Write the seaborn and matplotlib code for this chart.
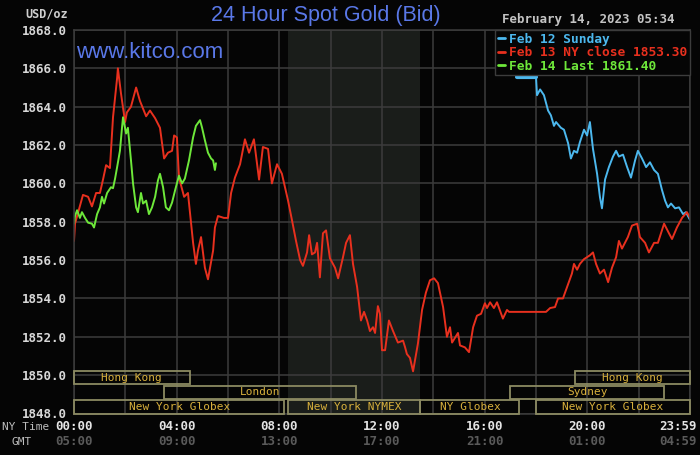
import pandas as pd
import seaborn as sns
import matplotlib.pyplot as plt
from matplotlib.patches import Rectangle

# hours after midnight (NY time) and USD/oz
red_hours = [0.0, 0.04, 0.35, 0.55, 0.70, 0.86, 1.01, 1.13, 1.25, 1.40, 1.52, 1.68, 1.71, 1.83,
             1.99, 2.06, 2.22, 2.42, 2.57, 2.81, 2.96, 3.16, 3.35, 3.51, 3.66, 3.82, 3.90, 4.01,
             4.09, 4.29, 4.44, 4.64, 4.75, 4.83, 4.95, 5.10, 5.22, 5.42, 5.49, 5.61, 5.84, 6.00,
             6.12, 6.27, 6.47, 6.66, 6.82, 7.01, 7.21, 7.36, 7.56, 7.71, 7.91, 8.10, 8.34, 8.49,
             8.65, 8.81, 8.92, 9.08, 9.16, 9.27, 9.39, 9.47, 9.58, 9.70, 9.82, 9.97, 10.17, 10.29,
             10.48, 10.60, 10.75, 10.87, 11.03, 11.18, 11.30, 11.42, 11.53, 11.65, 11.73, 11.84,
             11.92, 12.00, 12.12, 12.27, 12.43, 12.62, 12.82, 12.90, 12.97, 13.09, 13.21, 13.40,
             13.56, 13.71, 13.87, 14.03, 14.18, 14.38, 14.53, 14.65, 14.73, 14.96, 15.04, 15.23,
             15.39, 15.55, 15.70, 15.86, 16.01, 16.09, 16.21, 16.36, 16.48, 16.71, 16.87, 16.95,
             18.39, 18.55, 18.74, 18.86, 19.05, 19.21, 19.40, 19.48, 19.60, 19.71, 19.87, 20.10,
             20.22, 20.34, 20.49, 20.65, 20.81, 20.96, 21.12, 21.23, 21.35, 21.58, 21.74, 21.94,
             22.05, 22.25, 22.40, 22.60, 22.75, 22.99, 23.18, 23.30, 23.49, 23.69, 23.88, 24.0]
red_price = [1857.0, 1857.9, 1859.4, 1859.3, 1858.8, 1859.5, 1859.5, 1860.2, 1860.95, 1860.8,
             1863.45, 1865.5, 1866.0, 1864.7, 1863.2, 1863.7, 1864.0, 1865.0, 1864.3, 1863.5,
             1863.8, 1863.4, 1862.9, 1861.3, 1861.6, 1861.7, 1862.5, 1862.4, 1860.3, 1859.3,
             1859.5, 1856.9, 1855.8, 1856.5, 1857.2, 1855.6, 1855.0, 1856.5, 1857.7, 1858.3,
             1858.2, 1858.2, 1859.5, 1860.3, 1861.0, 1862.3, 1861.6, 1862.3, 1860.2, 1861.9,
             1861.8, 1860.0, 1861.0, 1860.5, 1859.1, 1858.1, 1857.0, 1856.0, 1855.7, 1856.4,
             1857.3, 1856.3, 1856.4, 1856.9, 1855.1, 1857.4, 1857.55, 1856.1, 1855.6, 1855.05,
             1856.15, 1856.9, 1857.3, 1855.8, 1854.6, 1852.85, 1853.3, 1852.85, 1852.3, 1852.5,
             1852.2, 1853.6, 1853.2, 1851.3, 1851.3, 1852.85, 1852.3, 1851.7, 1851.8, 1851.45,
             1851.1, 1850.9, 1850.2, 1851.65, 1853.4, 1854.3, 1854.95, 1855.05, 1854.8, 1853.55,
             1852.0, 1852.5, 1851.7, 1852.2, 1851.55, 1851.45, 1851.2, 1852.5, 1853.1, 1853.2,
             1853.75, 1853.5, 1853.8, 1853.5, 1853.8, 1852.95, 1853.4, 1853.3, 1853.3, 1853.5,
             1853.55, 1854.0, 1854.0, 1854.6, 1855.3, 1855.8, 1855.5, 1855.8, 1856.05, 1856.25,
             1856.4, 1855.8, 1855.3, 1855.5, 1854.85, 1855.6, 1856.15, 1857.0, 1856.6, 1857.2,
             1857.8, 1857.9, 1857.2, 1856.9, 1856.4, 1856.9, 1856.9, 1857.9, 1857.4, 1857.1,
             1857.7, 1858.2, 1858.5, 1858.2]

blue_hours = [17.26, 18.0, 18.04, 18.16, 18.31, 18.47, 18.58, 18.70, 18.78, 18.97, 19.09, 19.25,
              19.36, 19.48, 19.60, 19.71, 19.87, 19.99, 20.10, 20.22, 20.38, 20.49, 20.57, 20.69,
              20.84, 21.00, 21.12, 21.23, 21.39, 21.55, 21.70, 21.86, 21.97, 22.13, 22.29, 22.44,
              22.60, 22.75, 22.91, 23.03, 23.14, 23.26, 23.42, 23.57, 23.73, 23.84, 24.0]
blue_price = [1865.55, 1865.55, 1864.6, 1864.9, 1864.6, 1863.8, 1863.55, 1863.0, 1863.2, 1862.9,
              1862.8, 1862.1, 1861.3, 1861.7, 1861.6, 1862.15, 1862.8, 1862.5, 1863.2, 1861.8,
              1860.5, 1859.3, 1858.7, 1860.2, 1860.85, 1861.4, 1861.7, 1861.4, 1861.5, 1860.85,
              1860.3, 1861.2, 1861.7, 1861.3, 1860.85, 1861.1, 1860.7, 1860.5, 1859.65, 1859.1,
              1858.75, 1858.95, 1858.7, 1858.75, 1858.4, 1858.5, 1858.1]

green_hours = [0.0, 0.04, 0.12, 0.23, 0.31, 0.43, 0.55, 0.70, 0.78, 0.90, 1.01, 1.09, 1.17, 1.29,
               1.44, 1.52, 1.60, 1.68, 1.79, 1.87, 1.91, 2.03, 2.10, 2.22, 2.30, 2.42, 2.49, 2.61,
               2.69, 2.81, 2.92, 3.04, 3.16, 3.27, 3.35, 3.47, 3.58, 3.70, 3.82, 3.94, 4.09, 4.21,
               4.32, 4.48, 4.64, 4.75, 4.91, 4.99, 5.10, 5.22, 5.34, 5.42, 5.49, 5.53]
green_price = [1857.9, 1858.3, 1858.6, 1858.2, 1858.5, 1858.2, 1857.95, 1857.9, 1857.7, 1858.4,
               1858.75, 1859.3, 1858.95, 1859.5, 1859.8, 1859.75, 1860.25, 1860.85, 1861.7, 1862.9,
               1863.45, 1862.6, 1862.9, 1861.2, 1860.0, 1858.75, 1858.5, 1859.5, 1858.95, 1859.1,
               1858.4, 1858.75, 1859.3, 1860.15, 1860.5, 1859.8, 1858.75, 1858.6, 1859.0, 1859.65,
               1860.4, 1860.0, 1860.25, 1861.2, 1862.4, 1863.0, 1863.3, 1862.9, 1862.25, 1861.6,
               1861.3, 1861.2, 1860.7, 1861.05]

series_labels = ['Feb 12 Sunday', 'Feb 13 NY close 1853.30', 'Feb 14 Last 1861.40']
series_colors = ['#4cb8ee', '#e8301e', '#6ee83a']

ny_ticks = ['00:00', '04:00', '08:00', '12:00', '16:00', '20:00', '23:59']
gmt_ticks = ['05:00', '09:00', '13:00', '17:00', '21:00', '01:00', '04:59']
tick_hours = [0, 4, 8, 12, 16, 20, 24]

# trading sessions drawn as boxes along the bottom
session_names = ['Hong Kong', 'London', 'New York Globex', 'New York NYMEX', 'NY Globex',
                 'Hong Kong', 'Sydney', 'New York Globex']
session_start = [0, 3.5, 0, 8.33, 13.5, 19.5, 17.0, 18.0]
session_end = [4.5, 11.0, 8.2, 13.5, 17.35, 24, 23.0, 24]
session_row = [0, 1, 2, 2, 2, 0, 1, 2]
nymex_start, nymex_end = 8.33, 13.5

sns.set_style('dark', {'axes.facecolor': '#050505', 'figure.facecolor': '#050505',
                       'axes.edgecolor': '#3c3c3c', 'grid.color': '#3c3c3c'})
plt.rcParams['font.family'] = ['DejaVu Sans Mono']

fig = plt.figure(figsize=(7, 4.55), dpi=100)
ax = fig.add_axes([74 / 700, 1 - 413.5 / 455, 616 / 700, 383.5 / 455])

ax.axvspan(nymex_start, nymex_end, color='#1a1d1a', zorder=0, lw=0)

blue = pd.DataFrame({'hour': blue_hours, 'price': blue_price})
red = pd.DataFrame({'hour': red_hours, 'price': red_price})
green = pd.DataFrame({'hour': green_hours, 'price': green_price})

sns.lineplot(data=blue.iloc[:2], x='hour', y='price', color=series_colors[0], lw=3, ax=ax)
sns.lineplot(data=blue, x='hour', y='price', color=series_colors[0], lw=1.4, ax=ax,
             estimator=None, sort=False, label=series_labels[0])
sns.lineplot(data=red, x='hour', y='price', color=series_colors[1], lw=1.4, ax=ax,
             estimator=None, sort=False, label=series_labels[1])
sns.lineplot(data=green, x='hour', y='price', color=series_colors[2], lw=1.4, ax=ax,
             estimator=None, sort=False, label=series_labels[2])

ax.set_xlim(0, 24)
ax.set_ylim(1848, 1868)
ax.set_xticks(range(0, 25, 2))
ax.set_xticklabels([])
ax.set_yticks(range(1848, 1869, 2))
ax.set_yticklabels([f'{v}.0' for v in range(1848, 1869, 2)], color='#d8d8d8',
                   fontsize=9, fontweight='bold')
ax.tick_params(length=0, pad=5)
ax.grid(True, lw=1.1, color='#3c3c3c')
ax.set_axisbelow(True)
ax.set_xlabel('')
ax.set_ylabel('')
for sp in ax.spines.values():
    sp.set_color('#3c3c3c')
    sp.set_linewidth(1.1)

# session boxes
row_top = [1850.2, 1849.45, 1848.68]
row_h = 0.68
for name, s, e, r in zip(session_names, session_start, session_end, session_row):
    ax.add_patch(Rectangle((s, row_top[r] - row_h), e - s, row_h, fill=False,
                           ec='#8c8a62', lw=1.3, zorder=3, clip_on=False))
    ax.text((s + e) / 2, row_top[r] - row_h / 2, name, ha='center', va='center',
            fontsize=8, color='#d8b03c', zorder=4)

# x tick labels, NY time and GMT
for i, (h, ny, gmt) in enumerate(zip(tick_hours, ny_ticks, gmt_ticks)):
    ha = 'right' if i == len(tick_hours) - 1 else 'center'
    dx = 5 if i == len(tick_hours) - 1 else 0
    ax.annotate(ny, xy=(h, 0), xycoords=ax.get_xaxis_transform(), xytext=(dx, -9.5),
                textcoords='offset points', ha=ha, va='center', fontsize=9,
                fontweight='bold', color='#e4e4e4')
    ax.annotate(gmt, xy=(h, 0), xycoords=ax.get_xaxis_transform(), xytext=(dx, -20.5),
                textcoords='offset points', ha=ha, va='center', fontsize=9,
                fontweight='bold', color='#5a5a5a')
fig.text(2 / 700, 1 - 427 / 455, 'NY Time', ha='left', va='center', fontsize=8, color='#bdbdbd')
fig.text(22 / 700, 1 - 442 / 455, 'GMT', ha='center', va='center', fontsize=8, color='#bdbdbd')

fig.text(68 / 700, 1 - 14 / 455, 'USD/oz', ha='right', va='center', fontsize=8.5,
         fontweight='bold', color='#cfcfcf')
fig.text(326 / 700, 1 - 16 / 455, '24 Hour Spot Gold (Bid)', ha='center', va='center',
         fontsize=15.5, color='#5a78e8', family='Liberation Sans')
fig.text(588 / 700, 1 - 19 / 455, 'February 14, 2023 05:34', ha='center', va='center',
         fontsize=9, fontweight='bold', color='#c4c4c4')
ax.text(0.004, 0.942, 'www.kitco.com', transform=ax.transAxes, ha='left', va='center',
        fontsize=16, color='#5a78e8', family='Liberation Sans')

leg = ax.legend(loc='upper right', borderaxespad=0, handlelength=0.55, handletextpad=0.35,
                labelspacing=0.05, labelcolor='linecolor', frameon=True,
                fancybox=False, borderpad=0.2, prop={'weight': 'bold', 'size': 9.3})
leg.get_frame().set_facecolor('#050505')
leg.get_frame().set_edgecolor('#3c3c3c')
leg.get_frame().set_alpha(1)
leg.set_zorder(5)
for ln in leg.get_lines():
    ln.set_linewidth(2)

fig.savefig('out.png', dpi=100, facecolor=fig.get_facecolor())
